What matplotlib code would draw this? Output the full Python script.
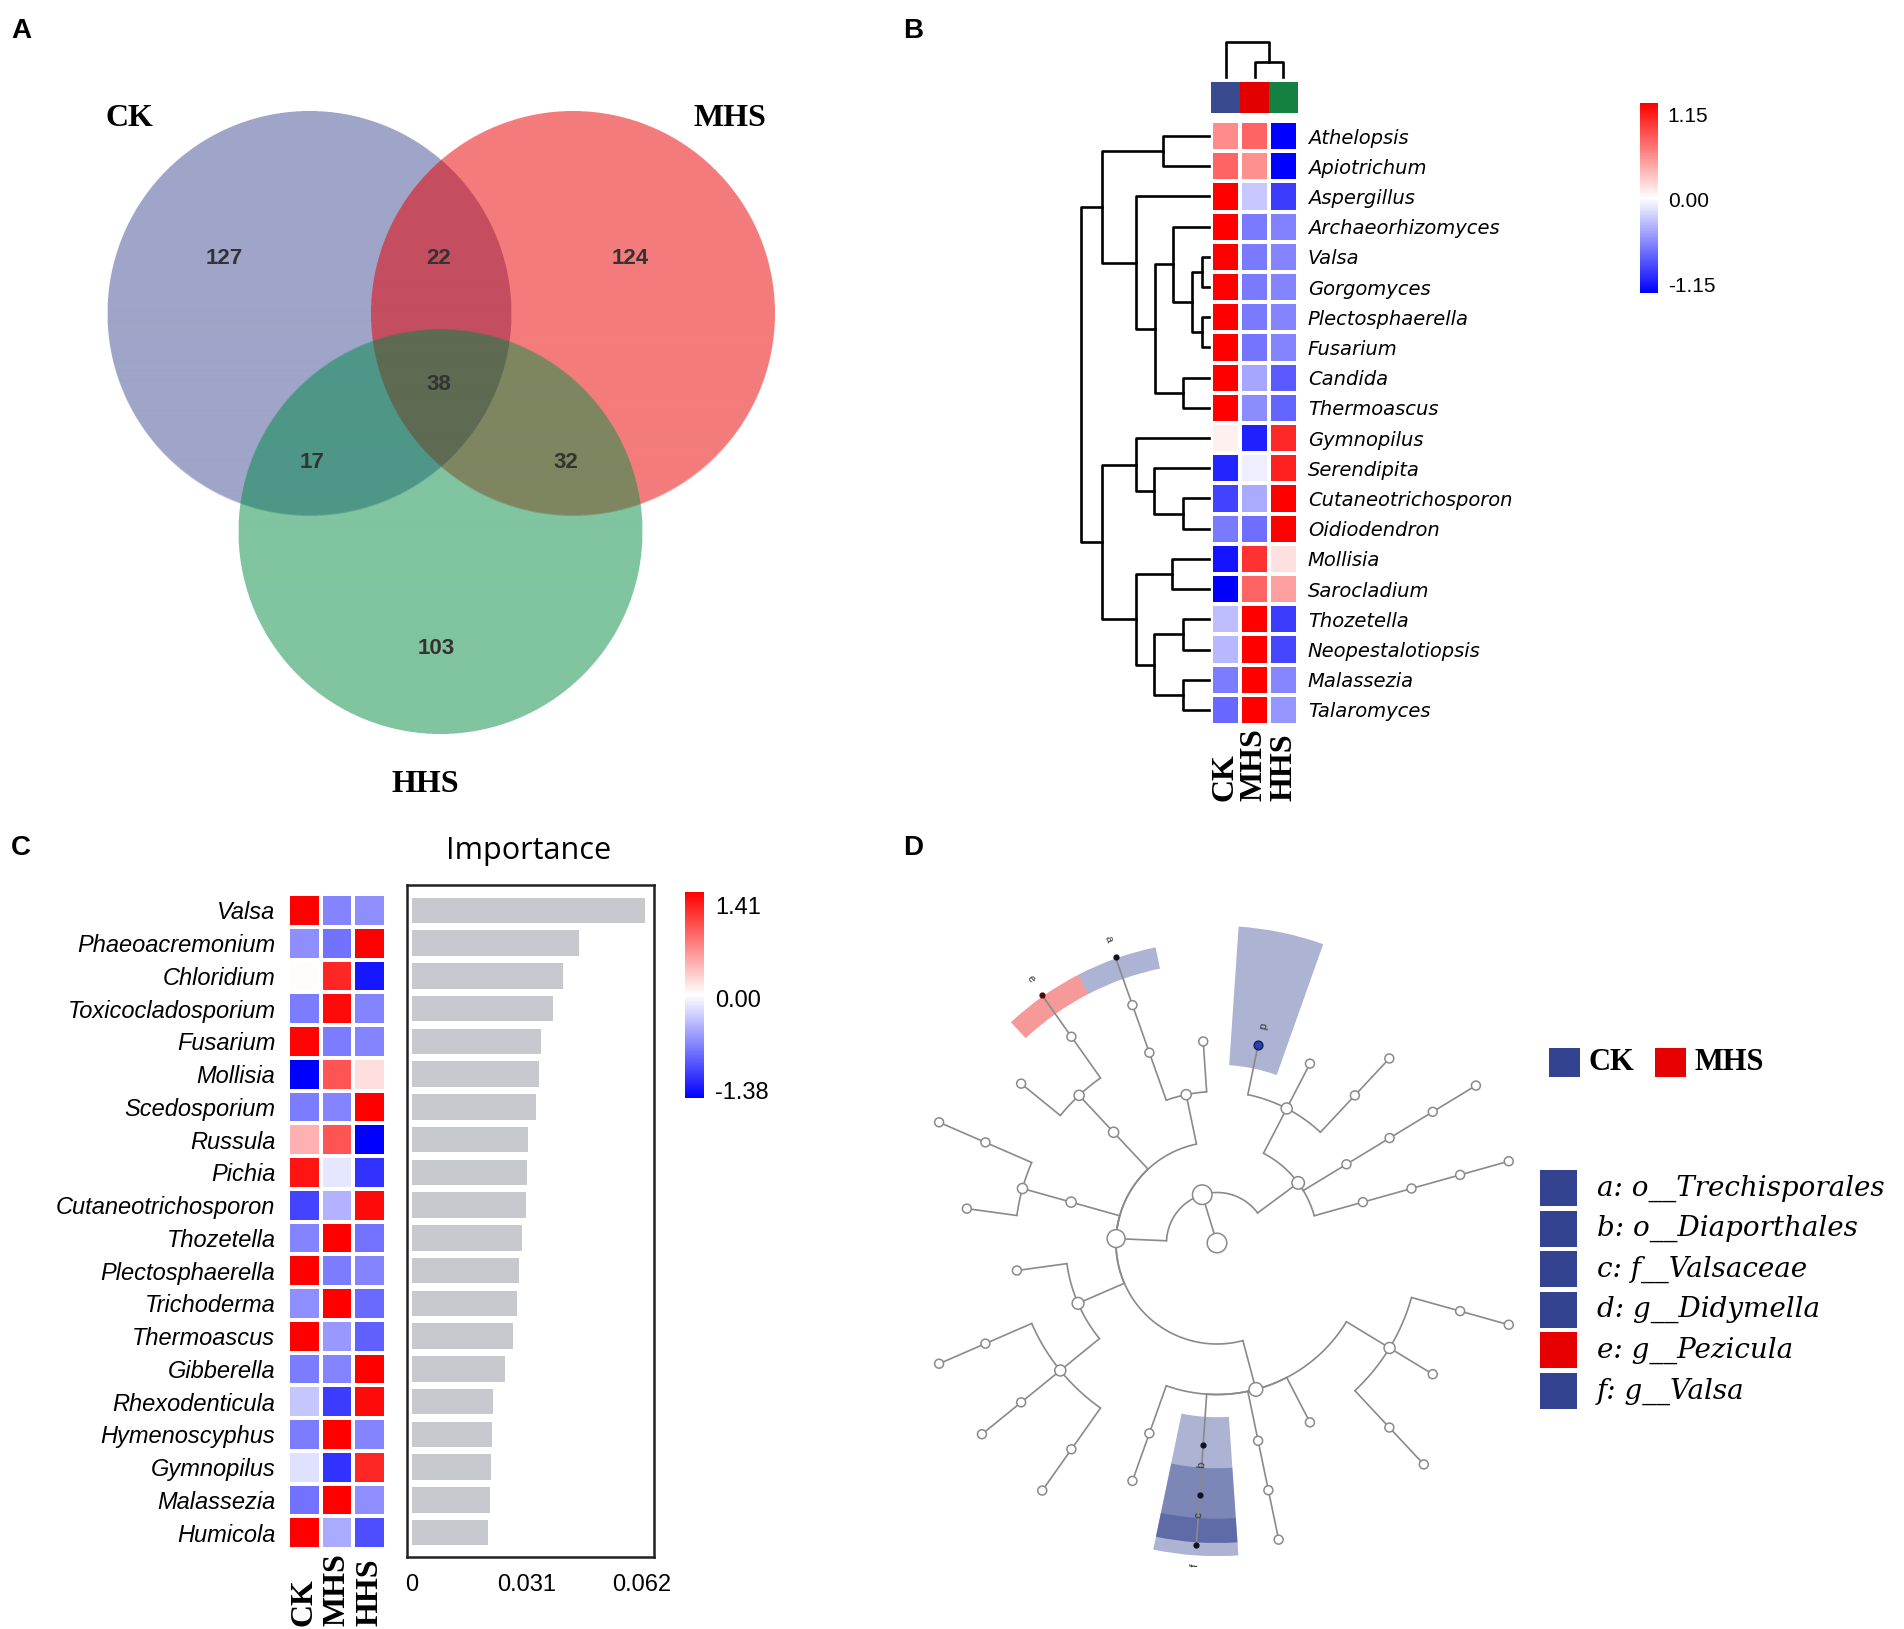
#!/usr/bin/env python3
"""
4-panel figure: Venn (A), clustered heatmap (B),
heatmap + importance bars (C), LEfSe-style cladogram (D).
"""

import numpy as np
import matplotlib
matplotlib.use('Agg')  # no display
import matplotlib.pyplot as plt
from matplotlib.colors import LinearSegmentedColormap, Normalize, to_rgb
from matplotlib.patches import Rectangle

W, H = 1904, 1629
plt.rcParams['font.family'] = ['Liberation Sans', 'DejaVu Sans']

# ---------------- data ----------------
groups = ['CK', 'MHS', 'HHS']

# A: Venn counts
venn_regions = ['CK', 'MHS', 'HHS', 'CK&MHS', 'CK&HHS', 'MHS&HHS', 'CK&MHS&HHS']
venn_counts = [127, 124, 103, 22, 17, 32, 38]

# B: z-scores of 20 genera
b_genera = ['Athelopsis', 'Apiotrichum', 'Aspergillus', 'Archaeorhizomyces', 'Valsa',
            'Gorgomyces', 'Plectosphaerella', 'Fusarium', 'Candida', 'Thermoascus',
            'Gymnopilus', 'Serendipita', 'Cutaneotrichosporon', 'Oidiodendron', 'Mollisia',
            'Sarocladium', 'Thozetella', 'Neopestalotiopsis', 'Malassezia', 'Talaromyces']
b_ck = [0.52, 0.70, 1.15, 1.15, 1.15, 1.15, 1.15, 1.15, 1.15, 1.15,
        0.07, -0.98, -0.85, -0.60, -1.06, -1.15, -0.29, -0.32, -0.59, -0.68]
b_mhs = [0.70, 0.50, -0.25, -0.60, -0.60, -0.60, -0.60, -0.62, -0.40, -0.52,
         -1.00, -0.08, -0.38, -0.65, 0.92, 0.70, 1.15, 1.15, 1.15, 1.15]
b_hhs = [-1.15, -1.15, -0.88, -0.56, -0.55, -0.55, -0.55, -0.55, -0.74, -0.70,
         0.97, 1.00, 1.15, 1.15, 0.14, 0.43, -0.88, -0.83, -0.54, -0.47]
# row clustering (left id, right id, height); new clusters get ids 20, 21, ...
b_row_merges = [(4, 5, 0.07), (6, 7, 0.07), (20, 21, 0.17), (3, 22, 0.36),
                (8, 9, 0.26), (23, 24, 0.54), (2, 25, 0.73), (0, 1, 0.46),
                (27, 26, 1.07), (12, 13, 0.26), (11, 29, 0.55), (10, 30, 0.73),
                (14, 15, 0.37), (16, 17, 0.26), (18, 19, 0.26), (33, 34, 0.55),
                (32, 35, 0.73), (31, 36, 1.07), (28, 37, 1.28)]
b_col_merges = [(1, 2, 0.15), (0, 3, 0.35)]

# C: z-scores and random forest importance
c_genera = ['Valsa', 'Phaeoacremonium', 'Chloridium', 'Toxicocladosporium', 'Fusarium',
            'Mollisia', 'Scedosporium', 'Russula', 'Pichia', 'Cutaneotrichosporon',
            'Thozetella', 'Plectosphaerella', 'Trichoderma', 'Thermoascus', 'Gibberella',
            'Rhexodenticula', 'Hymenoscyphus', 'Gymnopilus', 'Malassezia', 'Humicola']
c_ck = [1.41, -0.60, 0.03, -0.70, 1.38, -1.38, -0.70, 0.45, 1.30, -1.00,
        -0.65, 1.41, -0.60, 1.41, -0.70, -0.30, -0.70, -0.15, -0.75, 1.41]
c_mhs = [-0.65, -0.75, 1.20, 1.35, -0.70, 0.95, -0.65, 0.95, -0.12, -0.40,
         1.41, -0.70, 1.41, -0.55, -0.65, -1.05, 1.41, -1.10, 1.41, -0.45]
c_hhs = [-0.60, 1.41, -1.25, -0.65, -0.65, 0.20, 1.41, -1.38, -1.10, 1.35,
         -0.75, -0.65, -0.80, -0.85, 1.41, 1.35, -0.65, 1.20, -0.60, -0.95]
c_importance = [0.0628, 0.0451, 0.0407, 0.0381, 0.0348, 0.0341, 0.0333, 0.0313, 0.0309, 0.0306,
                0.0296, 0.0287, 0.0283, 0.0272, 0.0250, 0.0218, 0.0215, 0.0212, 0.0211, 0.0205]
c_xticks = [0, 0.031, 0.062]

# D: cladogram tree (name, children); depth = taxonomic ring
lefse_tree = ('root', [
    ('p1', [
        ('c2', [
            ('o1', [('o1f', [('o1g', [('o1s', [])])])]),
            ('o2', [('o2f', [('o2g', [('o2s', [])])])]),
            ('o3', [('o3f1', [('o3g1', [])]), ('o3f2', []), ('d', [])]),
        ]),
        ('c1', [
            ('o4', [('o4f1', []), ('o4f2', [('o4g2', [('a', [])])])]),
            ('o5', [('o5f', [('e_g', [('e', [])]), ('o5g2', [])])]),
            ('o6', [('o6f', [('o6g1', [('o6s1', [])]), ('o6g2', [])])]),
            ('o7', [('o7f1', []),
                    ('o7f2', [('o7g1', [('o7s1', [])]), ('o7g2', [('o7s2', [])]),
                              ('o7g3', [('o7s3', [])])])]),
            ('o8', [('o8f1', [('o8g1', [])]),
                    ('b', [('c', [('f', [])])]),
                    ('o8f3', [('o8g3', [('o8s3', [])])]),
                    ('o8f4', []),
                    ('o8f5', [('o8g5', [('o8s5', [])]), ('o8g6', []), ('o8g7', [('o8s7', [])])])]),
        ]),
    ]),
])
lefse_labels = ['a', 'b', 'c', 'd', 'e', 'f']
lefse_taxa = ['o__Trechisporales', 'o__Diaporthales', 'f__Valsaceae',
              'g__Didymella', 'g__Pezicula', 'g__Valsa']
lefse_group = ['CK', 'CK', 'CK', 'CK', 'MHS', 'CK']

# ---------------- style ----------------
cmap = LinearSegmentedColormap.from_list('bwr_pure', ['#0000FF', '#FFFFFF', '#FF0000'])
bar_group_colors = ['#3A4A8E', '#E20000', '#138241']
lefse_colors = {'CK': '#34438F', 'MHS': '#E60000'}
serif_bold = dict(family='Liberation Serif', fontweight='bold')

fig = plt.figure(figsize=(W / 100, H / 100), dpi=100)


def px_axes(x0, y0, x1, y1, **kw):
    """axes placed by pixel box (top-left origin)"""
    return fig.add_axes([x0 / W, 1 - y1 / H, (x1 - x0) / W, (y1 - y0) / H], **kw)


def ftext(x, y, s, **kw):
    return fig.text(x / W, 1 - y / H, s, **kw)


def draw_dendro(ax, merges, n, orient, lw=1.9):
    pos = [i + 0.5 for i in range(n)]
    hgt = [0.0] * n
    for a, b, h in merges:
        ps = [pos[a], pos[a], pos[b], pos[b]]
        hs = [hgt[a], h, h, hgt[b]]
        if orient == 'left':
            ax.plot(hs, ps, color='black', lw=lw, clip_on=False)
        else:
            ax.plot(ps, hs, color='black', lw=lw, clip_on=False)
        pos.append((pos[a] + pos[b]) / 2)
        hgt.append(h)


# panel letters
for letter, (x, y) in zip('ABCD', [(21, 31), (913, 31), (21, 848), (913, 848)]):
    ftext(x, y, letter, fontsize=20, fontweight='bold', ha='center', va='center')

# ================= A: Venn =================
ax_a = px_axes(0, 0, 880, 820)
venn_centers = {'CK': (309.5, 314), 'MHS': (573, 314), 'HHS': (440.5, 532)}
venn_r = 202
region_colors = {'CK': '#9FA5C8', 'MHS': '#F47C7C', 'HHS': '#80C4A0',
                 'CK&MHS': '#C44E60', 'CK&HHS': '#4E9787', 'MHS&HHS': '#7E8660',
                 'CK&MHS&HHS': '#5E6B52'}
region_text_xy = {'CK': (224, 259), 'MHS': (630, 259), 'HHS': (436, 648),
                  'CK&MHS': (439, 259), 'CK&HHS': (312, 463), 'MHS&HHS': (566, 463),
                  'CK&MHS&HHS': (439, 385)}


def region_code(name):
    return sum(1 << groups.index(g) for g in name.split('&'))


x0, x1, y0, y1 = 100, 785, 105, 742
ss = 3
xs = (x0 + (np.arange((x1 - x0) * ss) + 0.5) / ss).astype(np.float32)
ys = (y0 + (np.arange((y1 - y0) * ss) + 0.5) / ss).astype(np.float32)
X, Y = np.meshgrid(xs, ys)
code = np.zeros(X.shape, np.uint8)
for bit, g in enumerate(groups):
    cx, cy = venn_centers[g]
    code |= (((X - cx) ** 2 + (Y - cy) ** 2) <= venn_r ** 2).astype(np.uint8) << bit
palette = np.ones((8, 3))
for name in venn_regions:
    palette[region_code(name)] = to_rgb(region_colors[name])
img = palette[code].reshape(y1 - y0, ss, x1 - x0, ss, 3).mean(axis=(1, 3))
ax_a.imshow(img, extent=(x0, x1, y1, y0), interpolation='bilinear', aspect='auto')
ax_a.set_xlim(0, 880)
ax_a.set_ylim(820, 0)
ax_a.axis('off')

for name, cnt in zip(venn_regions, venn_counts):
    ax_a.text(*region_text_xy[name], str(cnt), ha='center', va='center', fontsize=16,
              fontweight='bold', color='#333333',
              family=['Liberation Sans Narrow', 'Liberation Sans'])
for g, xy in zip(groups, [(129, 119), (730, 119), (425, 784)]):
    ax_a.text(*xy, g, ha='center', va='center', fontsize=23, **serif_bold)

# ================= B: clustered heatmap =================
b_z = np.array([b_ck, b_mhs, b_hhs]).T
nb = len(b_genera)
ax_bh = px_axes(1211, 121, 1298, 725)
ax_bh.pcolormesh(np.arange(4), np.arange(nb + 1), b_z, cmap=cmap,
                 norm=Normalize(-1.15, 1.15), edgecolors='white', linewidth=1.6)
ax_bh.set_xlim(0, 3)
ax_bh.set_ylim(nb, 0)
ax_bh.set_xticks([])
ax_bh.yaxis.tick_right()
ax_bh.set_yticks(np.arange(nb) + 0.5)
ax_bh.set_yticklabels(b_genera, family='DejaVu Sans', fontstyle='italic', fontsize=14)
ax_bh.tick_params(length=0, pad=7)
for s in ax_bh.spines.values():
    s.set_visible(False)

ax_bd = px_axes(1075, 121, 1209, 725)
draw_dendro(ax_bd, b_row_merges, nb, 'left')
ax_bd.set_xlim(1.34, 0)
ax_bd.set_ylim(nb, 0)
ax_bd.axis('off')

ax_bt = px_axes(1211, 40, 1298, 77)
draw_dendro(ax_bt, b_col_merges, 3, 'top')
ax_bt.set_xlim(0, 3)
ax_bt.set_ylim(0, 0.37)
ax_bt.axis('off')

ax_bg = px_axes(1211, 82, 1298, 113)
ax_bg.imshow([[to_rgb(c) for c in bar_group_colors]], aspect='auto',
             extent=(0, 3, 1, 0))
ax_bg.axis('off')

for i, g in enumerate(groups):
    ftext(1211 + 29 * (i + 0.5), 801, g, rotation=90, ha='center', va='bottom',
          fontsize=23, **serif_bold)

cax_b = px_axes(1640, 103, 1658, 293)
cb = fig.colorbar(plt.cm.ScalarMappable(norm=Normalize(-1.27, 1.31), cmap=cmap),
                  cax=cax_b, ticks=[-1.15, 0, 1.15])
cb.ax.set_yticklabels(['-1.15', '0.00', '1.15'])
cb.outline.set_visible(False)
cb.ax.tick_params(length=0, pad=7, labelsize=15)

# ================= C: heatmap + importance =================
c_z = np.array([c_ck, c_mhs, c_hhs]).T
nc = len(c_genera)
ax_ch = px_axes(288, 894, 386, 1549)
ax_ch.pcolormesh(np.arange(4), np.arange(nc + 1), c_z, cmap=cmap,
                 norm=Normalize(-1.38, 1.41), edgecolors='white', linewidth=1.6)
ax_ch.set_xlim(0, 3)
ax_ch.set_ylim(nc, 0)
ax_ch.set_xticks([])
ax_ch.set_yticks(np.arange(nc) + 0.5)
ax_ch.set_yticklabels(c_genera, fontstyle='italic', fontsize=17)
ax_ch.tick_params(length=0, pad=9)
for s in ax_ch.spines.values():
    s.set_visible(False)

for i, g in enumerate(groups):
    ftext(288 + 32.7 * (i + 0.5), 1626, g, rotation=90, ha='center', va='bottom',
          fontsize=23, **serif_bold)

ax_cb = px_axes(407, 885, 654, 1557)
ax_cb.barh(np.arange(nc) + 0.5, c_importance, height=0.78, color='#C8C9CE')
ax_cb.set_xlim(-0.00135, 0.0652)
ax_cb.set_ylim(nc + 0.245, -0.275)
ax_cb.set_yticks([])
ax_cb.set_xticks(c_xticks)
ax_cb.set_xticklabels(['0', '0.031', '0.062'])
ax_cb.tick_params(axis='x', length=0, pad=12, labelsize=17)
for s in ax_cb.spines.values():
    s.set_linewidth(1.8)
    s.set_color('#222222')
ftext(529, 851, 'Importance', ha='center', va='center', fontsize=22, family='Open Sans')

cax_c = px_axes(685, 892, 704, 1098)
cb2 = fig.colorbar(plt.cm.ScalarMappable(norm=Normalize(-1.50, 1.62), cmap=cmap),
                   cax=cax_c, ticks=[-1.38, 0, 1.41])
cb2.ax.set_yticklabels(['-1.38', '0.00', '1.41'])
cb2.outline.set_visible(False)
cb2.ax.tick_params(length=0, pad=8, labelsize=17)

# ================= D: cladogram =================


def count_leaves(node):
    return 1 if not node[1] else sum(count_leaves(k) for k in node[1])


n_leaves = count_leaves(lefse_tree)
step = 2 * np.pi / (n_leaves + 1)
nodes = {}
leaf_idx = [0]


def layout(node, depth):
    name, kids = node
    if not kids:
        leaf_idx[0] += 1
        ang, nl = leaf_idx[0] * step, 1
    else:
        res = [layout(k, depth + 1) for k in kids]
        ang = np.mean([r[0] for r in res])
        nl = sum(r[1] for r in res)
    nodes[name] = (depth, ang, nl, [k[0] for k in kids])
    return ang, nl


layout(lefse_tree, 0)

ax_d = px_axes(843, 869, 1591, 1617, projection='polar')
ax_d.set_ylim(0, 7.406)
ax_d.set_axis_off()

half = step / 2
sector_band = {'a': (5.55, 5.98), 'e': (5.55, 5.98), 'd': (3.53, 6.28),
               'b': (3.45, 6.20), 'c': (4.46, 5.94), 'f': (5.46, 5.94)}
for lab, grp in zip(lefse_labels, lefse_group):
    ang = nodes[lab][1]
    r0, r1 = sector_band[lab]
    ax_d.bar(ang, r1 - r0, width=2 * half, bottom=r0, color=lefse_colors[grp],
             alpha=0.4, linewidth=0, zorder=1)

line_kw = dict(color='#8A8A8A', lw=1.2, zorder=2, solid_capstyle='round')
for name, (depth, ang, nl, kids) in nodes.items():
    for kid in kids:
        ka = nodes[kid][1]
        if depth > 0:
            t = np.linspace(ang, ka, 60)
            ax_d.plot(t, np.full_like(t, depth), **line_kw)
        ax_d.plot([ka, ka], [depth, depth + 1], **line_kw)

plain = [n for n in nodes if n not in lefse_labels]
pt = (7 + 3.3 * np.sqrt([nodes[n][2] for n in plain])) / 2.3 * 0.72
ax_d.scatter([nodes[n][1] for n in plain], [nodes[n][0] for n in plain], s=(2 * pt) ** 2,
             facecolor='white', edgecolor='#8A8A8A', linewidth=1.1, zorder=3)

dot_face = {'a': '#111122', 'b': '#111122', 'c': '#111122', 'f': '#111122',
            'e': '#4A0A0A', 'd': '#2A3FB0'}
for lab in lefse_labels:
    depth, ang = nodes[lab][0], nodes[lab][1]
    big = lab == 'd'
    ax_d.scatter([ang], [depth], s=40 if big else 12, facecolor=dot_face[lab],
                 edgecolor='#10205A' if big else dot_face[lab], linewidth=1.0, zorder=4)
    ax_d.text(ang, depth + 0.4, lab, fontsize=8, color='#333333', ha='center',
              va='center', rotation=np.degrees(ang) - 180, zorder=5)

# legend
ax_l = px_axes(1530, 1030, 1904, 1420)
ax_l.set_xlim(1530, 1904)
ax_l.set_ylim(1420, 1030)
ax_l.axis('off')
for i, g in enumerate(['CK', 'MHS']):
    bx = 1549 + 106 * i
    ax_l.add_patch(Rectangle((bx, 1048), 31, 29, facecolor=lefse_colors[g], edgecolor='none'))
    ax_l.text(bx + 40, 1063, g, ha='left', va='center', fontsize=22, **serif_bold)
for i, (lab, tax, grp) in enumerate(zip(lefse_labels, lefse_taxa, lefse_group)):
    top = 1170 + 40.6 * i
    ax_l.add_patch(Rectangle((1540, top), 37, 36, facecolor=lefse_colors[grp], edgecolor='none'))
    ax_l.text(1597, top + 18, f'{lab}: {tax}', ha='left', va='center', fontsize=20,
              family='DejaVu Serif', fontstyle='italic')

fig.savefig('out.png', dpi=100)
plt.close(fig)
